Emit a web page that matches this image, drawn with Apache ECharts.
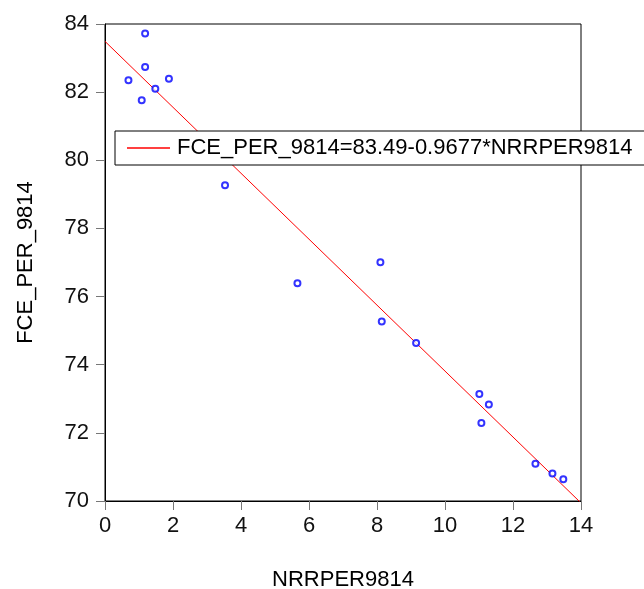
<!DOCTYPE html>
<html>
<head>
<meta charset="utf-8">
<script src="https://cdn.jsdelivr.net/npm/echarts@6/dist/echarts.min.js"></script>
<style>html,body{margin:0;padding:0;background:#fff;}#c{width:644px;height:589px;}</style>
</head>
<body>
<div id="c"></div>
<script>
var nrrper = [1.18, 1.18, 0.69, 1.88, 1.48, 1.08, 3.53, 5.66, 8.10, 8.14, 9.15, 11.01, 11.29, 11.07, 12.66, 13.16, 13.48];
var fcePer = [83.72, 82.74, 82.35, 82.39, 82.10, 81.76, 79.27, 76.39, 77.01, 75.27, 74.64, 73.14, 72.83, 72.29, 71.09, 70.81, 70.64];
var intercept = 83.49;
var slope = -0.9677;
var lineX = [0, 14];
var fitName = 'FCE_PER_9814=83.49-0.9677*NRRPER9814';
var xTicks = [0, 2, 4, 6, 8, 10, 12, 14];
var yTicks = [70, 72, 74, 76, 78, 80, 82, 84];

var pts = nrrper.map(function (x, i) { return [x, fcePer[i]]; });
var fit = lineX.map(function (x) { return [x, intercept + slope * x]; });
var font = 'Liberation Sans, Arial, sans-serif';

var chart = echarts.init(document.getElementById('c'), null, {renderer: 'canvas'});
chart.setOption({
  animation: false,
  backgroundColor: '#fff',
  grid: {left: 105, right: 63, top: 24, bottom: 88, show: true, borderColor: '#000', borderWidth: 1, backgroundColor: '#fff', containLabel: false, outerBoundsMode: 'none'},
  xAxis: {
    type: 'value', min: xTicks[0], max: xTicks[xTicks.length - 1], interval: 2,
    name: 'NRRPER9814', nameLocation: 'middle', nameGap: 68,
    nameTextStyle: {fontFamily: font, fontSize: 22, color: '#000'},
    axisLine: {show: true, onZero: false, lineStyle: {color: '#000', width: 1}},
    axisTick: {show: true, length: 9, lineStyle: {color: '#777', width: 1}},
    axisLabel: {fontFamily: font, fontSize: 22, color: '#111', margin: 14},
    splitLine: {show: false}
  },
  yAxis: {
    type: 'value', min: yTicks[0], max: yTicks[yTicks.length - 1], interval: 2,
    name: 'FCE_PER_9814', nameLocation: 'middle', nameGap: 68, nameRotate: 90,
    nameTextStyle: {fontFamily: font, fontSize: 22, color: '#000'},
    axisLine: {show: true, onZero: false, lineStyle: {color: '#000', width: 1}},
    axisTick: {show: true, length: 9, lineStyle: {color: '#777', width: 1}},
    axisLabel: {fontFamily: font, fontSize: 22, color: '#111', margin: 16},
    splitLine: {show: false}
  },
  legend: {
    data: [{name: fitName, icon: 'rect'}],
    left: 115, top: 131,
    backgroundColor: '#fff', borderColor: '#000', borderWidth: 1,
    padding: [6, 20, 6, 12],
    itemWidth: 43, itemHeight: 1.5, itemGap: 0,
    itemStyle: {color: '#ff0000', borderWidth: 0},
    textStyle: {fontFamily: font, fontSize: 22, color: '#000', padding: [0, 0, 0, 2], lineHeight: 22}
  },
  series: [
    {
      name: fitName, type: 'line', data: fit, symbol: 'none', showSymbol: false,
      lineStyle: {color: '#ff0000', width: 1}, itemStyle: {color: '#ff0000'}, z: 2, clip: true
    },
    {
      name: 'points', type: 'scatter', data: pts, symbol: 'emptyCircle', symbolSize: 6,
      itemStyle: {color: '#0000ff', borderColor: '#0000ff', borderWidth: 1.5}, z: 3
    }
  ]
});
</script>
</body>
</html>
